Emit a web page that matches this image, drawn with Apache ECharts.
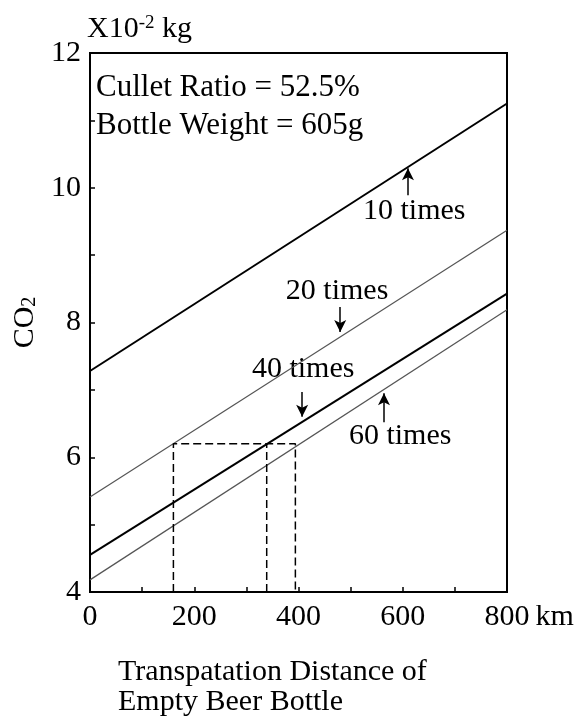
<!DOCTYPE html>
<html>
<head>
<meta charset="utf-8">
<script src="https://cdn.jsdelivr.net/npm/echarts@6/dist/echarts.min.js"></script>
<style>
  html, body { margin: 0; padding: 0; background: #fff; }
  #chart { width: 584px; height: 721px; }
</style>
</head>
<body>
<div id="chart"></div>
<script>
// distance (km) and CO2 (x10^-2 kg)
const distance = [0, 800];
const times10 = [7.28, 11.25];
const times20 = [5.41, 9.37];
const times40 = [4.55, 8.43];
const times60 = [4.18, 8.19];

// dashed guide lines at CO2 = 6.2
const guideLevel = 6.2;
const guideX = [160, 339, 394];

// "n times" notes: label centre and arrow (tail -> tip)
const noteNames = ['10 times', '20 times', '40 times', '60 times'];
const noteX = [622, 474, 409, 595];
const noteY = [9.65, 8.47, 7.31, 6.32];
const arrowX = [610, 480, 407, 564];
const arrowFrom = [9.89, 8.23, 6.97, 6.52];
const arrowTo = [10.29, 7.86, 6.6, 6.95];

const FONT = 'Liberation Serif';

const chart = echarts.init(document.getElementById('chart'));

function pairs(ys) {
  return distance.map((d, i) => [d, ys[i]]);
}

const lineSeries = [
  { name: '10 times', data: pairs(times10), color: '#000', width: 2 },
  { name: '20 times', data: pairs(times20), color: '#555', width: 1.2 },
  { name: '40 times', data: pairs(times40), color: '#000', width: 2 },
  { name: '60 times', data: pairs(times60), color: '#555', width: 1.2 }
].map(s => ({
  type: 'line',
  name: s.name,
  data: s.data,
  symbol: 'none',
  silent: true,
  lineStyle: { color: s.color, width: s.width }
}));

const guideSeries = [
  [[guideX[0], 4], [guideX[0], guideLevel], [guideX[2], guideLevel], [guideX[2], 4]],
  [[guideX[1], 4], [guideX[1], guideLevel]]
].map(d => ({
  type: 'line',
  data: d,
  symbol: 'none',
  silent: true,
  lineStyle: { color: '#000', width: 1.5, type: [8, 4] }
}));

const noteSeries = {
  type: 'scatter',
  symbolSize: 0,
  silent: true,
  itemStyle: { color: '#000', opacity: 1 },
  data: noteNames.map((n, i) => ({ name: n, value: [noteX[i], noteY[i]] })),
  label: {
    show: true,
    position: 'inside',
    formatter: p => p.name,
    fontFamily: FONT,
    fontSize: 30,
    color: '#000',
    opacity: 1,
    textBorderWidth: 0
  },
  markLine: {
    silent: true,
    symbol: ['none', 'arrow'],
    symbolSize: [9, 12],
    label: { show: false },
    lineStyle: { color: '#000', width: 1.5, type: 'solid' },
    data: arrowX.map((x, i) => [{ coord: [x, arrowFrom[i]] }, { coord: [x, arrowTo[i]] }])
  }
};

chart.setOption({
  animation: false,
  textStyle: { fontFamily: FONT, color: '#000' },
  title: [
    {
      text: 'X10{sup|-2} kg',
      left: 82,
      top: 9,
      textStyle: {
        fontFamily: FONT, fontSize: 30, fontWeight: 'normal', color: '#000', lineHeight: 30,
        rich: { sup: { fontFamily: FONT, fontSize: 19, verticalAlign: 'top', lineHeight: 30, color: '#000' } }
      }
    },
    {
      text: 'Cullet Ratio = 52.5%\nBottle Weight = 605g',
      left: 91,
      top: 64,
      textStyle: { fontFamily: FONT, fontSize: 31, fontWeight: 'normal', color: '#000', lineHeight: 38 }
    },
    {
      text: 'Transpatation Distance of\nEmpty Beer Bottle',
      left: 113,
      top: 652,
      textStyle: { fontFamily: FONT, fontSize: 30, fontWeight: 'normal', color: '#000', lineHeight: 30 }
    }
  ],
  grid: {
    left: 90, right: 77, top: 53, bottom: 129,
    show: true, borderColor: '#000', borderWidth: 2
  },
  xAxis: {
    type: 'value',
    min: 0, max: 800, interval: 100,
    name: 'km',
    nameLocation: 'end',
    nameGap: 28,
    nameTextStyle: { fontFamily: FONT, fontSize: 30, color: '#000', verticalAlign: 'top', padding: [10, 0, 0, 0] },
    axisLine: { lineStyle: { color: '#000', width: 2 } },
    axisTick: { inside: true, length: 5, lineStyle: { color: '#000', width: 1.5 } },
    axisLabel: {
      margin: 10, fontFamily: FONT, fontSize: 30, color: '#000',
      formatter: v => (v % 200 === 0 ? String(v) : '')
    },
    splitLine: { show: false }
  },
  yAxis: {
    type: 'value',
    min: 4, max: 12, interval: 1,
    name: 'CO{sub|2}',
    nameLocation: 'middle',
    nameRotate: 90,
    nameGap: 48,
    nameTextStyle: {
      fontFamily: FONT, fontSize: 30, color: '#000', lineHeight: 30,
      rich: { sub: { fontFamily: FONT, fontSize: 20, verticalAlign: 'bottom', lineHeight: 30, color: '#000' } }
    },
    axisLine: { lineStyle: { color: '#000', width: 2 } },
    axisTick: { inside: true, length: 5, lineStyle: { color: '#000', width: 1.5 } },
    axisLabel: {
      margin: 9, fontFamily: FONT, fontSize: 30, color: '#000',
      formatter: v => (v % 2 === 0 ? String(v) : '')
    },
    splitLine: { show: false }
  },
  series: [...lineSeries, ...guideSeries, noteSeries]
});
</script>
</body>
</html>
